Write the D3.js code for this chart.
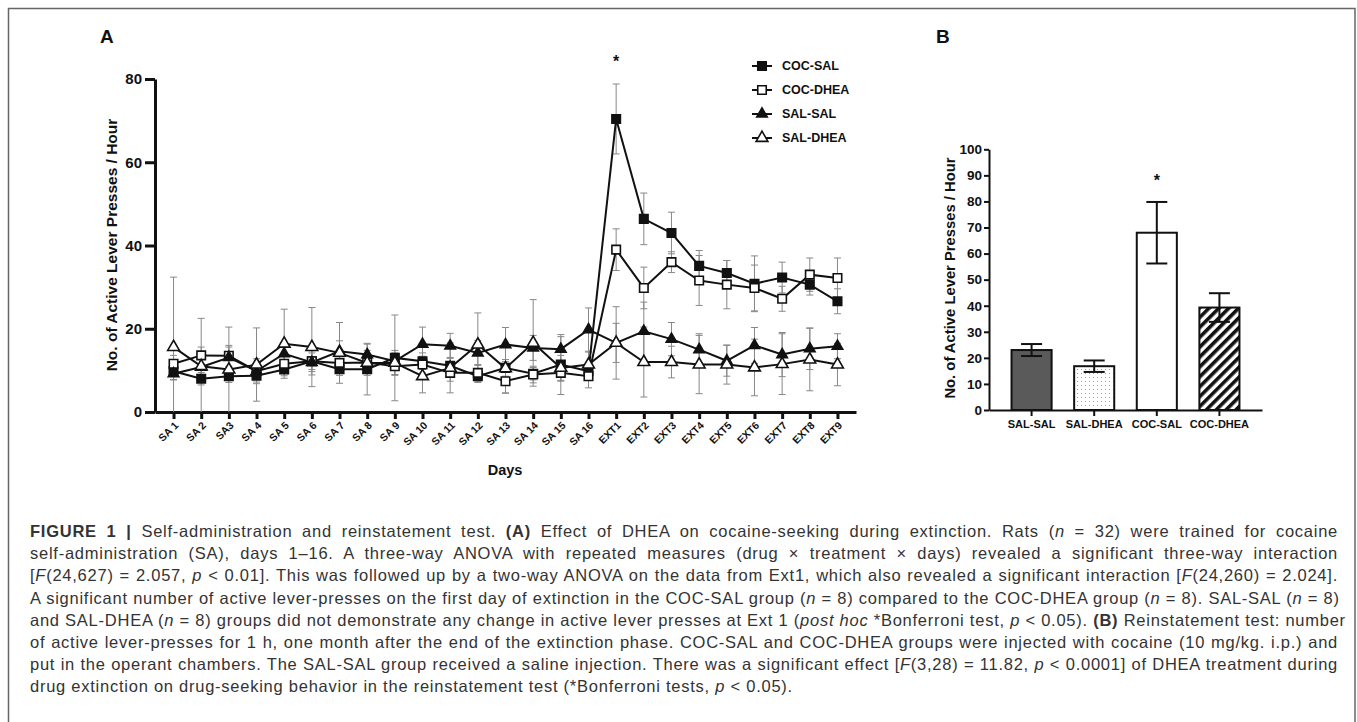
<!DOCTYPE html>
<html lang="en">
<head>
<meta charset="UTF-8">
<title>Figure 1</title>
<script src="https://cdn.jsdelivr.net/npm/d3@7/dist/d3.min.js"></script>
<style>
    body{ margin:0; background:#fff; }
    svg{ position:absolute; left:0; top:0; }
    .bold{ font-family: 'Liberation Sans', Arial, sans-serif; font-weight:700; fill:#111; }
    .axisA path, .axisA line{ stroke:#111; stroke-width:3; }
    .axisB path, .axisB line{ stroke:#111; stroke-width:2; }
    #caption{
        position:absolute; left:30px; top:520px; width:1308px;
        font-family: 'Liberation Sans', Arial, sans-serif; font-size:16.5px; line-height:22.2px;
        letter-spacing:0.75px; color:#333;
    }
    #caption div{ white-space:nowrap; text-align:justify; text-align-last:justify; }
    #caption div.last{ text-align-last:left; }
</style>
</head>
<body>
<script>

// panel A data
var days = ["SA 1","SA 2","SA3","SA 4","SA 5","SA 6","SA 7","SA 8","SA 9","SA 10","SA 11","SA 12","SA 13",
            "SA 14","SA 15","SA 16","EXT1","EXT2","EXT3","EXT4","EXT5","EXT6","EXT7","EXT8","EXT9"];
var cocSal   = [9.8,8.0,8.6,8.7,10.2,12.2,10.3,10.3,13.0,12.2,11.1,8.6,10.6,9.2,11.4,9.8,70.4,46.4,43.0,35.1,33.4,30.8,32.3,30.6,26.6];
var cocDhea  = [11.6,13.6,13.5,9.8,11.6,12.2,11.8,11.9,11.0,11.4,9.4,9.4,7.4,9.0,9.4,8.6,39.0,29.8,36.0,31.6,30.6,29.8,27.2,33.0,32.2];
var salSal   = [9.2,10.8,13.1,9.8,14.0,11.9,14.6,13.8,12.2,16.3,15.9,14.2,16.2,15.4,15.1,19.8,16.6,19.4,17.5,15.0,12.3,16.0,13.8,15.2,15.8];
var salDhea  = [15.6,11.0,10.2,11.4,16.4,15.6,14.2,11.8,11.8,8.6,10.6,16.2,10.5,16.6,10.6,11.4,16.6,12.0,12.0,11.4,11.4,10.7,11.5,12.6,11.4];
var cocSalErr  = [2,1.5,1.5,1.5,1.5,2,1.5,6.2,10.3,2,2,1.5,2,1.5,7.2,2,8.4,6.2,5,3.7,3,6.7,3.7,2.5,3];
var cocDheaErr = [2,2,2.5,2,2,2.5,2,2,2,2,2,2,2.8,2,2,2.8,5,5,2.5,6,5.8,5.5,3,4,4.8];
var salSalErr  = [1.5,3,2.5,3,2.5,3,2.5,2.5,2,4.1,3,3,4.1,3,3,5.2,4.7,7,4,3.8,3.7,4.3,5.3,5,3];
var salDheaErr = [16.8,11.5,10.2,8.8,8.3,9.5,7.3,3,3,4,6,7.6,6,10.4,3,3,8.7,8.4,3.8,7,4.7,6.8,7.3,7.5,5.1];
var ticksA = [0,20,40,60,80];

// panel B data
var groupsB = ["SAL-SAL","SAL-DHEA","COC-SAL","COC-DHEA"];
var meansB = [23, 16.8, 68, 39.3];
var semB = [2.3, 2.2, 11.8, 5.5];
var ticksB = [0,10,20,30,40,50,60,70,80,90,100];

var series = [
    {name:"COC-SAL",  vals:cocSal,  err:cocSalErr,  shape:d3.symbolSquare,   size:72, fill:"#111"},
    {name:"COC-DHEA", vals:cocDhea, err:cocDheaErr, shape:d3.symbolSquare,   size:72, fill:"#fff"},
    {name:"SAL-SAL",  vals:salSal,  err:salSalErr,  shape:d3.symbolTriangle, size:48, fill:"#111"},
    {name:"SAL-DHEA", vals:salDhea, err:salDheaErr, shape:d3.symbolTriangle, size:60, fill:"#fff"}
];

var svg = d3.select("body").append("svg").attr("width",1357).attr("height",722);

// frame
svg.append("rect").attr("x",8.5).attr("y",8.5).attr("width",1346.5).attr("height",760)
    .attr("fill","none").attr("stroke","#666").attr("stroke-width",1.5);

// patterns
var defs = svg.append("defs");
var dots = defs.append("pattern").attr("id","dots").attr("patternUnits","userSpaceOnUse")
    .attr("width",4).attr("height",4);
dots.append("rect").attr("width",4).attr("height",4).attr("fill","#fff");
dots.append("rect").attr("x",1).attr("y",1).attr("width",1).attr("height",1).attr("fill","#999");
var hatch = defs.append("pattern").attr("id","hatch").attr("patternUnits","userSpaceOnUse")
    .attr("width",7).attr("height",7).attr("patternTransform","rotate(45)");
hatch.append("rect").attr("width",7).attr("height",7).attr("fill","#fff");
hatch.append("rect").attr("width",3.6).attr("height",7).attr("fill","#111");

// ---------- panel A ----------
var xA = d3.scalePoint().domain(days).range([155,856]).padding(0.67);
var yA = d3.scaleLinear().domain([0,80]).range([412,79]);

svg.append("text").attr("class","bold").attr("x",100).attr("y",43).attr("font-size",19).text("A");

svg.append("g").attr("class","axisA").attr("transform","translate(155,0)")
    .call(d3.axisLeft(yA).tickValues(ticksA).tickSize(10).tickSizeOuter(0).tickPadding(3))
    .call(function(g){ g.selectAll("text").attr("class","bold").attr("font-size",15); });

var gx = svg.append("g").attr("class","axisA").attr("transform","translate(0,412)")
    .call(d3.axisBottom(xA).tickSize(7).tickSizeOuter(0));
gx.selectAll("text").attr("class","bold").attr("font-size",10.5)
    .attr("text-anchor","end").attr("dy",0)
    .attr("transform","translate(5,14) rotate(-45)").attr("y",0).attr("x",0);

svg.append("text").attr("class","bold").attr("font-size",14.5).attr("text-anchor","middle")
    .attr("x",505).attr("y",475).text("Days");
svg.append("text").attr("class","bold").attr("font-size",15.5).attr("text-anchor","middle")
    .attr("transform","translate(117,245) rotate(-90)").text("No. of Active Lever Presses / Hour");

// error bars
series.forEach(function(s){
    var g = svg.append("g").attr("stroke","#888").attr("stroke-width",1).attr("fill","none");
    s.vals.forEach(function(v,i){
        var x = xA(days[i]), lo = yA(Math.max(0, v - s.err[i])), hi = yA(v + s.err[i]);
        g.append("line").attr("x1",x).attr("x2",x).attr("y1",lo).attr("y2",hi);
        g.append("line").attr("x1",x-3.5).attr("x2",x+3.5).attr("y1",hi).attr("y2",hi);
        if (v - s.err[i] > 0) g.append("line").attr("x1",x-3.5).attr("x2",x+3.5).attr("y1",lo).attr("y2",lo);
    });
});

var line = d3.line().x(function(d,i){ return xA(days[i]); }).y(function(d){ return yA(d); });
series.forEach(function(s){
    svg.append("path").datum(s.vals).attr("d",line).attr("fill","none")
        .attr("stroke","#111").attr("stroke-width",2);
});
series.forEach(function(s){
    svg.append("g").selectAll("path").data(s.vals).enter().append("path")
        .attr("d", d3.symbol().type(s.shape).size(s.size))
        .attr("transform", function(d,i){ return "translate(" + xA(days[i]) + "," + yA(d) + ")"; })
        .attr("fill", s.fill).attr("stroke","#111").attr("stroke-width",1.6);
});

svg.append("text").attr("class","bold").attr("font-size",16).attr("text-anchor","middle")
    .attr("x",xA("EXT1")).attr("y",yA(83)).text("*");

// legend
var leg = svg.append("g").selectAll("g").data(series).enter().append("g")
    .attr("transform", function(d,i){ return "translate(762," + (66 + i*24) + ")"; });
leg.append("line").attr("x1",-10).attr("x2",10).attr("stroke","#111").attr("stroke-width",2);
leg.append("path").attr("d", function(d){ return d3.symbol().type(d.shape).size(d.size)(); })
    .attr("fill", function(d){ return d.fill; }).attr("stroke","#111").attr("stroke-width",1.6);
leg.append("text").attr("class","bold").attr("font-size",12.5).attr("x",20).attr("dy","0.35em")
    .text(function(d){ return d.name; });

// ---------- panel B ----------
var xB = d3.scaleBand().domain(groupsB).range([989,1262]).padding(0.36);
var yB = d3.scaleLinear().domain([0,100]).range([410,149.3]);

svg.append("text").attr("class","bold").attr("x",936).attr("y",43).attr("font-size",19).text("B");

svg.append("g").attr("class","axisB").attr("transform","translate(989,0)")
    .call(d3.axisLeft(yB).tickValues(ticksB).tickSize(5).tickSizeOuter(0).tickPadding(2))
    .call(function(g){ g.selectAll("text").attr("class","bold").attr("font-size",13.5); });
svg.append("g").attr("class","axisB").attr("transform","translate(0,410)")
    .call(d3.axisBottom(xB).tickSize(6).tickSizeOuter(0).tickPadding(4))
    .call(function(g){ g.selectAll("text").attr("class","bold").attr("font-size",11); });

svg.append("text").attr("class","bold").attr("font-size",14.8).attr("text-anchor","middle")
    .attr("transform","translate(955,278) rotate(-90)").text("No. of Active Lever Presses / Hour");

var fillsB = ["#5a5a5a","url(#dots)","#fff","url(#hatch)"];
svg.append("g").selectAll("rect").data(meansB).enter().append("rect")
    .attr("x", function(d,i){ return xB(groupsB[i]); })
    .attr("width", xB.bandwidth())
    .attr("y", function(d){ return yB(d); })
    .attr("height", function(d){ return yB(0) - yB(d); })
    .attr("fill", function(d,i){ return fillsB[i]; })
    .attr("stroke","#111").attr("stroke-width",2);

var eb = svg.append("g").attr("stroke","#111").attr("stroke-width",2);
meansB.forEach(function(m,i){
    var x = xB(groupsB[i]) + xB.bandwidth()/2;
    eb.append("line").attr("x1",x).attr("x2",x).attr("y1",yB(m - semB[i])).attr("y2",yB(m + semB[i]));
    [m - semB[i], m + semB[i]].forEach(function(v){
        eb.append("line").attr("x1",x-10.5).attr("x2",x+10.5).attr("y1",yB(v)).attr("y2",yB(v));
    });
});

svg.append("text").attr("class","bold").attr("font-size",16).attr("text-anchor","middle")
    .attr("x", xB("COC-SAL") + xB.bandwidth()/2).attr("y", yB(86)).text("*");

// ---------- caption ----------
var captionLines = [
    "<b>FIGURE 1 |</b> Self-administration and reinstatement test. <b>(A)</b> Effect of DHEA on cocaine-seeking during extinction. Rats (<i>n</i> = 32) were trained for cocaine",
    "self-administration (SA), days 1–16. A three-way ANOVA with repeated measures (drug × treatment × days) revealed a significant three-way interaction",
    "[<i>F</i>(24,627) = 2.057, <i>p</i> &lt; 0.01]. This was followed up by a two-way ANOVA on the data from Ext1, which also revealed a significant interaction [<i>F</i>(24,260) = 2.024].",
    "A significant number of active lever-presses on the first day of extinction in the COC-SAL group (<i>n</i> = 8) compared to the COC-DHEA group (<i>n</i> = 8). SAL-SAL (<i>n</i> = 8)",
    "and SAL-DHEA (<i>n</i> = 8) groups did not demonstrate any change in active lever presses at Ext 1 (<i>post hoc</i> *Bonferroni test, <i>p</i> &lt; 0.05). <b>(B)</b> Reinstatement test: number",
    "of active lever-presses for 1 h, one month after the end of the extinction phase. COC-SAL and COC-DHEA groups were injected with cocaine (10 mg/kg. i.p.) and",
    "put in the operant chambers. The SAL-SAL group received a saline injection. There was a significant effect [<i>F</i>(3,28) = 11.82, <i>p</i> &lt; 0.0001] of DHEA treatment during",
    "drug extinction on drug-seeking behavior in the reinstatement test (*Bonferroni tests, <i>p</i> &lt; 0.05)."
];
d3.select("body").append("div").attr("id","caption")
    .selectAll("div").data(captionLines).enter().append("div")
    .classed("last", function(d,i){ return i === captionLines.length - 1; })
    .html(function(d){ return d; });

</script>
</body>
</html>
